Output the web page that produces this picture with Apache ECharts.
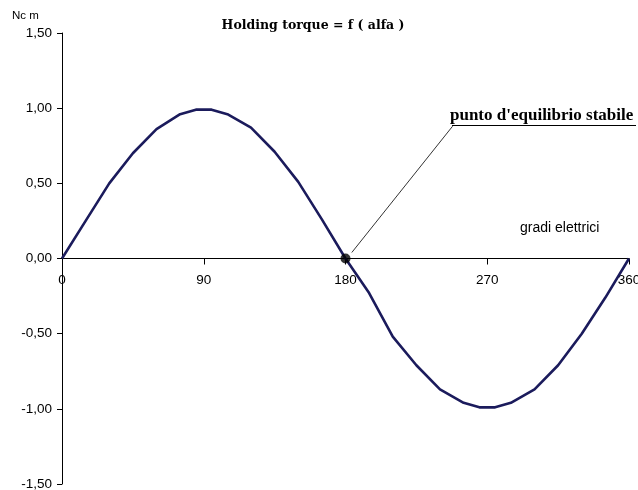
<!DOCTYPE html>
<html>
<head>
<meta charset="utf-8">
<script src="https://cdn.jsdelivr.net/npm/echarts@6/dist/echarts.min.js"></script>
<style>
  html, body { margin: 0; padding: 0; background: #fff; }
  #chart { width: 638px; height: 490px; }
</style>
</head>
<body>
<div id="chart"></div>
<script>
// Electrical angle (degrees) and holding torque (N·cm)
const angles = [0, 15, 30, 45, 60, 75, 85, 95, 105, 120, 135, 150, 165, 180,
                195, 210, 225, 240, 255, 265, 275, 285, 300, 315, 330, 345, 360];
const torque = [0, 0.25, 0.50, 0.70, 0.86, 0.96, 0.99, 0.99, 0.96, 0.87, 0.71, 0.51, 0.26, 0,
                -0.23, -0.52, -0.71, -0.87, -0.96, -0.99, -0.99, -0.96, -0.87, -0.71, -0.50, -0.26, 0];

// Stable equilibrium point
const equilibrium = [180, 0];
// Leader line from the point up to the annotation text
const leaderFrom = [184, 0.04];
const leaderTo = [248, 0.88];

const xTicks = [0, 90, 180, 270, 360];
const yTicks = [-1.5, -1.0, -0.5, 0, 0.5, 1.0, 1.5];

const W = 638, H = 490;
const gridBox = { left: 62, right: 9, top: 33, bottom: 6 };
const yMin = yTicks[0], yMax = yTicks[yTicks.length - 1];
// The angle axis runs along torque = 0: shift it up from the bottom of the grid
const plotH = H - gridBox.top - gridBox.bottom;
const zeroOffset = -plotH * (0 - yMin) / (yMax - yMin);

const chart = echarts.init(document.getElementById('chart'), null, { renderer: 'canvas' });

const fmtComma = v => v.toFixed(2).replace('.', ',');

chart.setOption({
  animation: false,
  backgroundColor: '#ffffff',
  title: {
    text: 'Holding torque = f ( alfa )',
    left: 308,
    textAlign: 'center',
    top: 14,
    textStyle: { fontFamily: 'DejaVu Serif', fontWeight: 'bold', fontSize: 12.5, color: '#000' }
  },
  grid: Object.assign({ containLabel: false, outerBoundsMode: 'none' }, gridBox),
  xAxis: {
    type: 'value',
    position: 'bottom',
    offset: zeroOffset,
    min: xTicks[0],
    max: xTicks[xTicks.length - 1],
    interval: 90,
    axisLine: { onZero: false, lineStyle: { color: '#000', width: 1 } },
    axisTick: { show: true, length: 6, lineStyle: { color: '#000' } },
    axisLabel: { fontFamily: 'Liberation Sans', fontSize: 13.5, color: '#000', margin: 15,
                 showMinLabel: true, showMaxLabel: true },
    splitLine: { show: false }
  },
  yAxis: {
    type: 'value',
    min: yMin,
    max: yMax,
    interval: 0.5,
    axisLine: { show: true, onZero: false, lineStyle: { color: '#000', width: 1 } },
    axisTick: { show: true, length: 5, lineStyle: { color: '#000' } },
    axisLabel: { fontFamily: 'Liberation Sans', fontSize: 13.5, color: '#000', margin: 10,
                 formatter: fmtComma },
    splitLine: { show: false }
  },
  graphic: [
    { type: 'text', x: 12, y: 16,
      style: { text: 'Nc m', fontFamily: 'Liberation Sans', fontSize: 11.5, fill: '#000',
               verticalAlign: 'middle' } },
    { type: 'text', x: 520, y: 228,
      style: { text: 'gradi elettrici', fontFamily: 'Liberation Sans', fontSize: 14, fill: '#000',
               verticalAlign: 'middle' } },
    { type: 'text', x: 450, y: 116,
      style: { text: "punto d'equilibrio stabile", fontFamily: 'Liberation Serif',
               fontWeight: 'bold', fontSize: 17, fill: '#000', verticalAlign: 'middle' } },
    { type: 'line', shape: { x1: 452, y1: 125.5, x2: 636, y2: 125.5 },
      style: { stroke: '#000', lineWidth: 1.2 } }
  ],
  series: [
    {
      type: 'line',
      data: angles.map((a, i) => [a, torque[i]]),
      showSymbol: false,
      smooth: false,
      lineStyle: { color: '#1b1b5c', width: 2.6 },
      z: 2
    },
    {
      type: 'scatter',
      data: [equilibrium],
      symbol: 'circle',
      symbolSize: 10,
      itemStyle: { color: '#000' },
      z: 3,
      markLine: {
        silent: true,
        symbol: ['none', 'none'],
        label: { show: false },
        lineStyle: { color: '#333', width: 1, type: 'solid' },
        data: [[{ coord: leaderFrom }, { coord: leaderTo }]]
      }
    }
  ]
});
</script>
</body>
</html>
